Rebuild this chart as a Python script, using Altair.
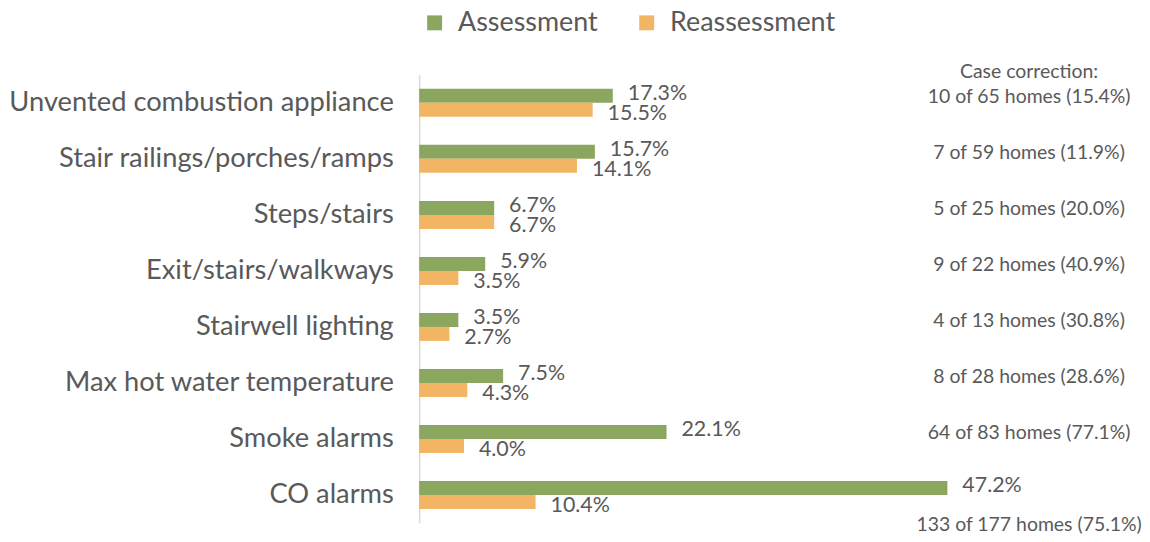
import altair as alt
import pandas as pd

categories = ["Unvented combustion appliance", "Stair railings/porches/ramps", "Steps/stairs",
              "Exit/stairs/walkways", "Stairwell lighting", "Max hot water temperature",
              "Smoke alarms", "CO alarms"]
assessment = [17.3, 15.7, 6.7, 5.9, 3.5, 7.5, 22.1, 47.2]
reassessment = [15.5, 14.1, 6.7, 3.5, 2.7, 4.3, 4.0, 10.4]
corrections = ["10 of 65 homes (15.4%)", "7 of 59 homes (11.9%)", "5 of 25 homes (20.0%)",
               "9 of 22 homes (40.9%)", "4 of 13 homes (30.8%)", "8 of 28 homes (28.6%)",
               "64 of 83 homes (77.1%)", "133 of 177 homes (75.1%)"]
series = ["Assessment", "Reassessment"]
colors = ["#8BA65E", "#F2B563"]
note_title = "Case correction:"

FONT = "Lato"
TXT = "#595959"

rows = []
for c, a, r in zip(categories, assessment, reassessment):
    rows.append({"cat": c, "series": series[0], "value": a, "label": f"{a:.1f}%"})
    rows.append({"cat": c, "series": series[1], "value": r, "label": f"{r:.1f}%"})
df = pd.DataFrame(rows)
notes = pd.DataFrame({"cat": categories, "note": corrections})

y_enc = alt.Y("cat:N", sort=categories,
              scale=alt.Scale(paddingInner=0.5, paddingOuter=0.25),
              axis=alt.Axis(title=None, ticks=False, domain=True, domainColor="#D9D9D9",
                            domainWidth=1.5, labelFont=FONT, labelFontSize=27.4,
                            labelColor=TXT, labelPadding=26, labelLimit=500,
                            minExtent=411, maxExtent=411))
x_enc = alt.X("value:Q", scale=alt.Scale(domain=[0, 50], nice=False), axis=None)
yoff = alt.YOffset("series:N", sort=series)

base = alt.Chart(df)
bars = base.mark_bar().encode(
    y=y_enc, x=x_enc, yOffset=yoff,
    color=alt.Color("series:N", sort=series,
                    scale=alt.Scale(domain=series, range=colors),
                    legend=alt.Legend(title=None, orient="none", legendX=2, legendY=-66,
                                      direction="horizontal", symbolType="square",
                                      symbolSize=225, symbolStrokeWidth=0,
                                      labelFont=FONT, labelFontSize=27, labelColor=TXT,
                                      labelLimit=400,
                                      labelOffset=10, columnPadding=35)),
)
lab_a = base.transform_filter(alt.datum.series == series[0]).mark_text(
    align="left", baseline="middle", dx=15, dy=-2, font=FONT, fontSize=21.5, color=TXT
).encode(y=y_enc, x=x_enc, yOffset=yoff, text="label:N")
lab_r = base.transform_filter(alt.datum.series == series[1]).mark_text(
    align="left", baseline="middle", dx=15, dy=4, font=FONT, fontSize=21.5, color=TXT
).encode(y=y_enc, x=x_enc, yOffset=yoff, text="label:N")

nbase = alt.Chart(notes)
note_x = alt.datum(54.5)
notes_main = nbase.transform_filter(alt.datum.cat != categories[-1]).mark_text(
    align="center", baseline="middle", dy=-6, font=FONT, fontSize=19.5, color=TXT
).encode(y=alt.Y("cat:N", sort=categories), x=note_x, text="note:N")
notes_last = nbase.transform_filter(alt.datum.cat == categories[-1]).mark_text(
    align="center", baseline="middle", dy=30, font=FONT, fontSize=19.5, color=TXT
).encode(y=alt.Y("cat:N", sort=categories), x=note_x, text="note:N")
notes_head = nbase.transform_filter(alt.datum.cat == categories[0]).transform_calculate(
    head=f"'{note_title}'").mark_text(
    align="center", baseline="middle", dy=-31, font=FONT, fontSize=19.5, color=TXT
).encode(y=alt.Y("cat:N", sort=categories), x=note_x, text="head:N")

chart = alt.layer(bars, lab_a, lab_r, notes_main, notes_last, notes_head).properties(
    width=562, height=450, padding=0
).configure(font=FONT).configure_view(strokeWidth=0, stroke="transparent")

chart.save("out.html", embed_options={"renderer": "svg", "actions": False})
